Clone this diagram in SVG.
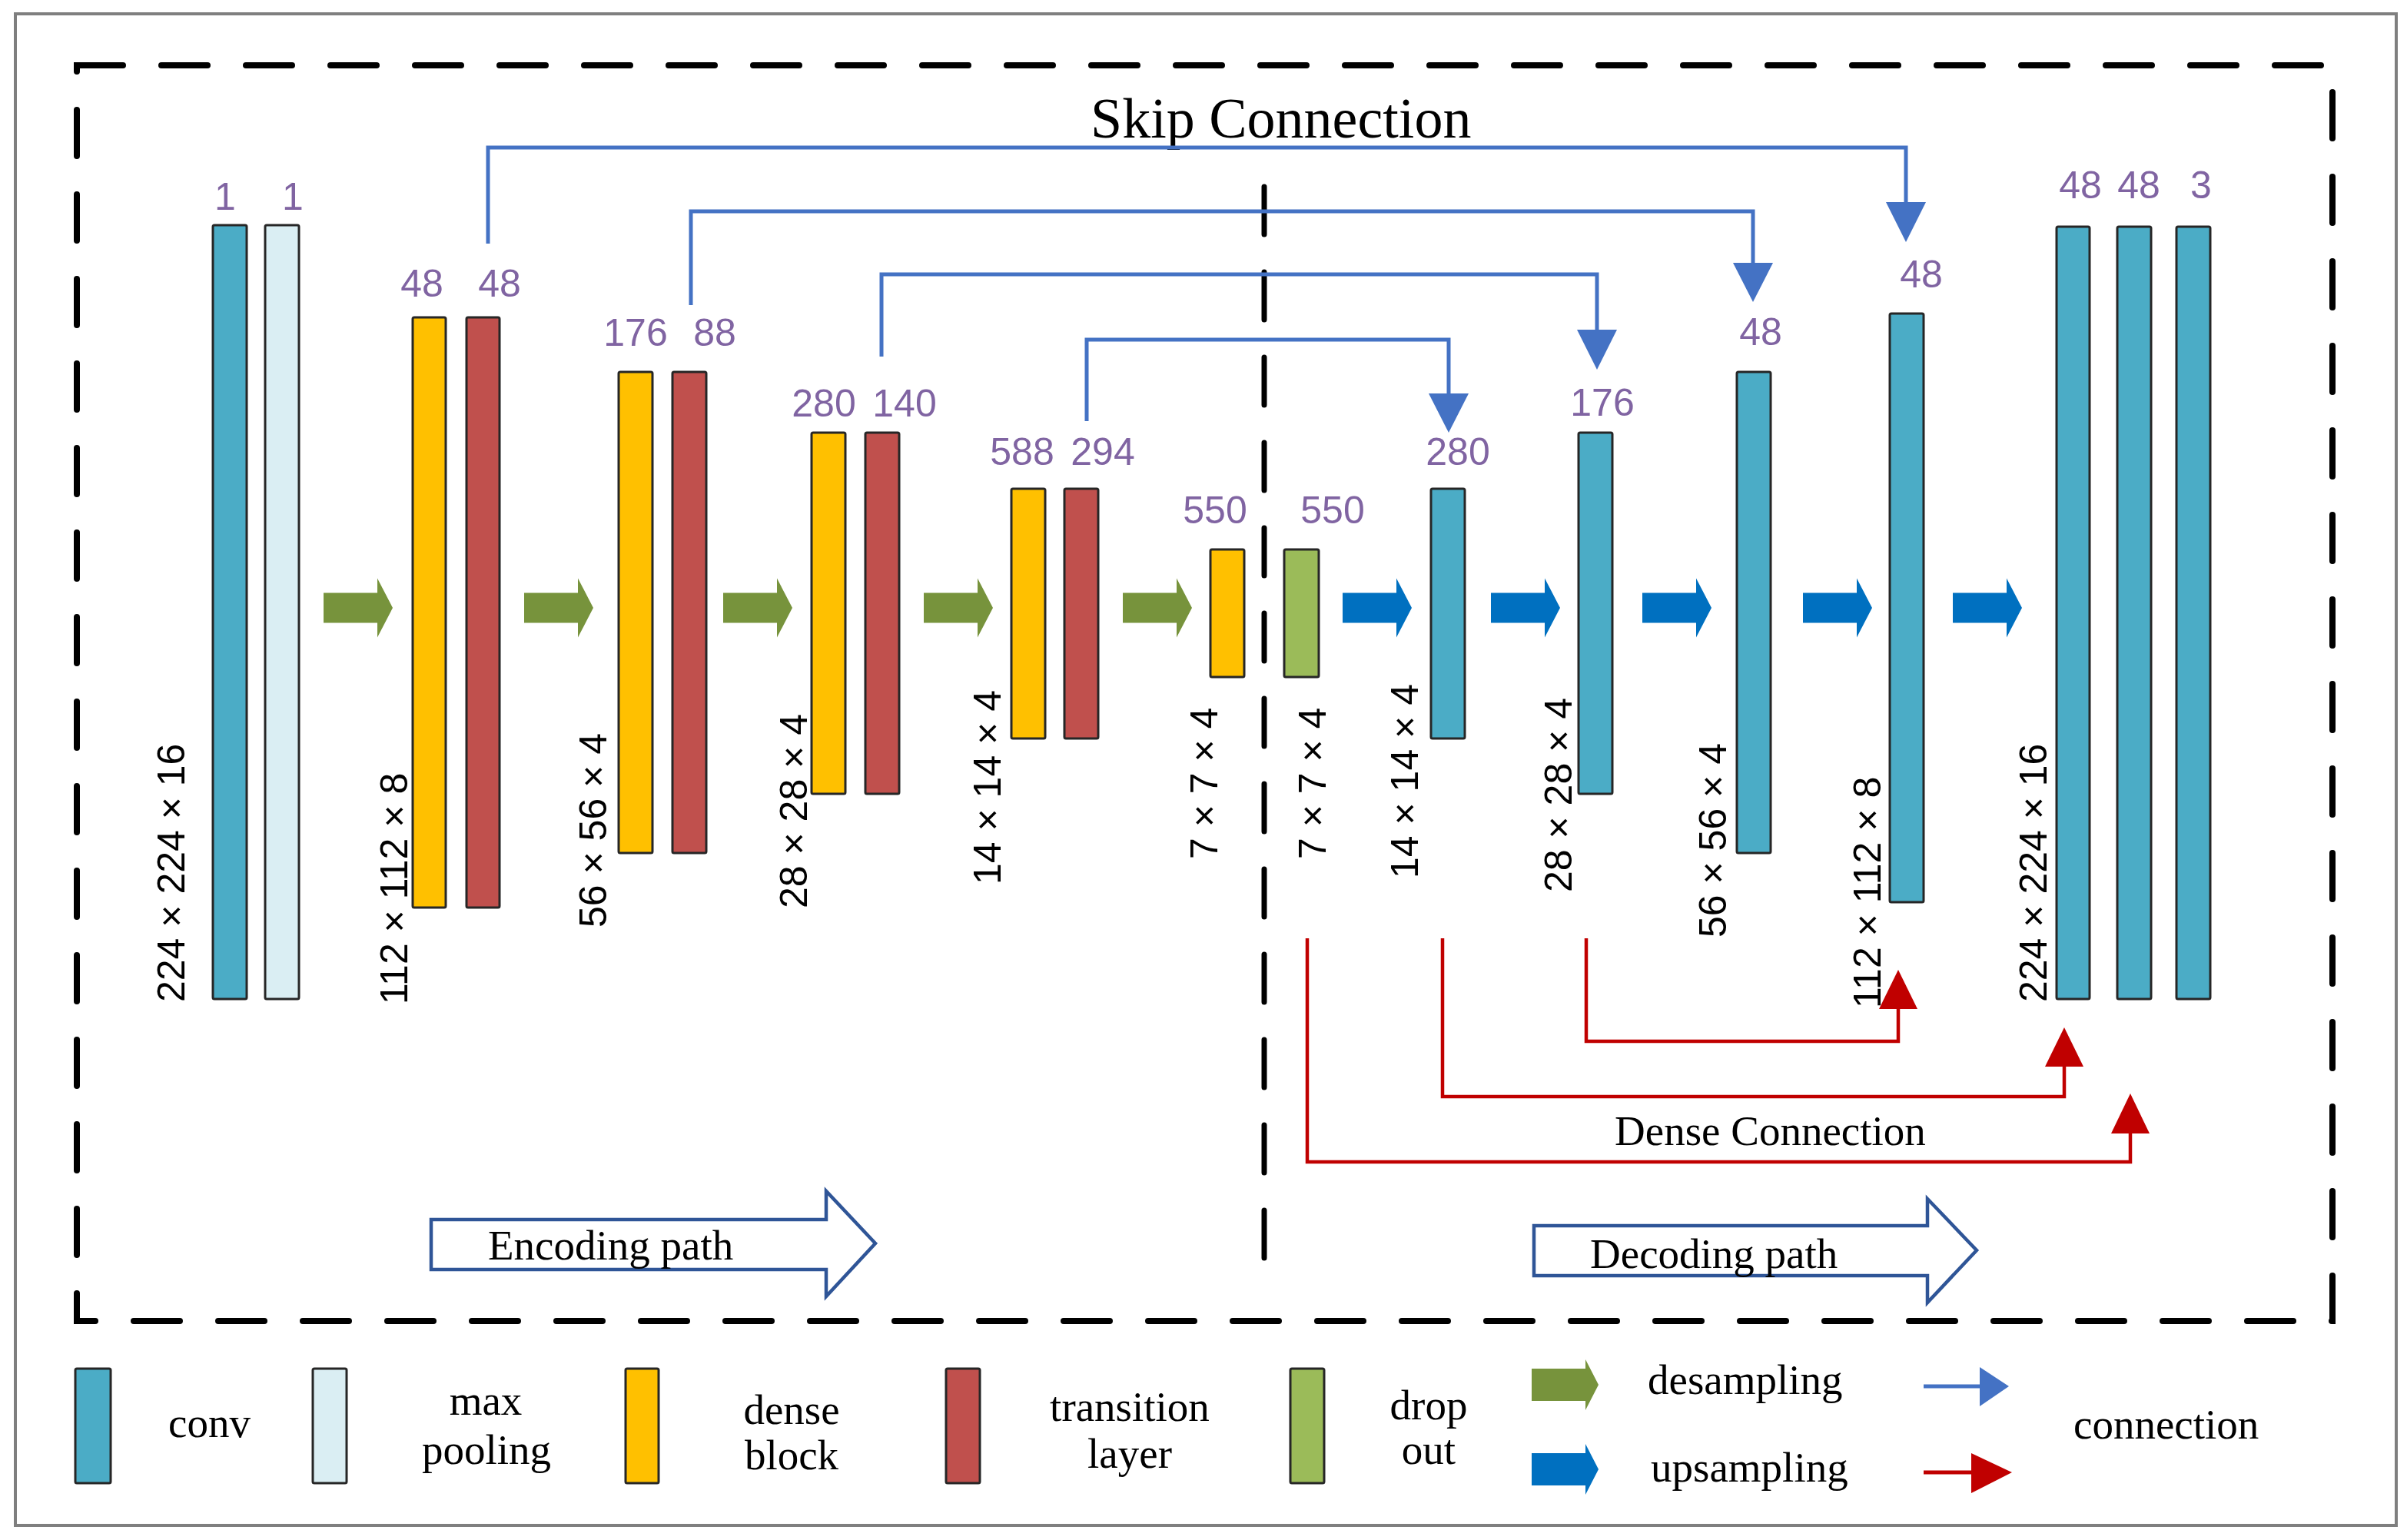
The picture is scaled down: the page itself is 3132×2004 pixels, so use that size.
<svg xmlns="http://www.w3.org/2000/svg" width="3132" height="2004" viewBox="0 0 3132 2004">
<style>
.bar{stroke:#262626;stroke-width:3}
.conv{fill:#4BACC6}
.pool{fill:#DAEEF3}
.dense{fill:#FFC000}
.trans{fill:#C0504D}
.drop{fill:#9BBB59}
.num{font-family:"Liberation Sans",Arial,sans-serif;font-size:50px;fill:#8064A2;text-anchor:middle}
.dim{font-family:"Liberation Sans",Arial,sans-serif;font-size:50px;fill:#000}
.serif{font-family:"Liberation Serif","Times New Roman",serif;fill:#000}
.lg{font-size:55px}
.mid{text-anchor:middle}
.skip{fill:none;stroke:#4472C4;stroke-width:5}
.skiphead{fill:#4472C4}
.dc{fill:none;stroke:#C00000;stroke-width:4.5}
.dchead{fill:#C00000}
.down{fill:#77933C}
.up{fill:#0070C0}
.pathar{fill:#fff;stroke:#2F5597;stroke-width:4.5}
.frame{fill:none;stroke:#7F7F7F;stroke-width:4}
.dash{fill:none;stroke:#000;stroke-width:8;stroke-dasharray:60 50;stroke-linecap:round}
.vdash{fill:none;stroke:#000;stroke-width:7;stroke-dasharray:62 49;stroke-linecap:round}
</style>
<defs>
<path id="blk" d="M0,-19.5 H70 V-38.5 L90,0 L70,38.5 V19.5 H0 Z"/>
<path id="blkL" d="M0,-21 H70 V-33 L87,0 L70,33 V21 H0 Z"/>
</defs>
<rect width="3132" height="2004" fill="#fff"/>
<rect class="frame" x="20" y="18" width="3098" height="1967"/>
<rect class="dash" x="100" y="85" width="2935" height="1634"/>
<line class="vdash" x1="1645" y1="243" x2="1645" y2="1640"/>

<text class="serif" x="1419" y="179" font-size="74">Skip Connection</text>

<!-- encoder -->
<g id="enc-conv"><rect class="bar conv" x="277" y="293" width="44" height="1007" rx="2"/><text class="num" x="293" y="273">1</text></g>
<g id="enc-pool"><rect class="bar pool" x="345" y="293" width="44" height="1007" rx="2"/><text class="num" x="381" y="273">1</text></g>
<g id="enc-dense1"><rect class="bar dense" x="537" y="413" width="43" height="768" rx="2"/><text class="num" x="549" y="386">48</text></g>
<g id="enc-trans1"><rect class="bar trans" x="607" y="413" width="43" height="768" rx="2"/><text class="num" x="650" y="386">48</text></g>
<g id="enc-dense2"><rect class="bar dense" x="805" y="484" width="44" height="626" rx="2"/><text class="num" x="827" y="450">176</text></g>
<g id="enc-trans2"><rect class="bar trans" x="875" y="484" width="44" height="626" rx="2"/><text class="num" x="930" y="450">88</text></g>
<g id="enc-dense3"><rect class="bar dense" x="1056" y="563" width="44" height="470" rx="2"/><text class="num" x="1072" y="542">280</text></g>
<g id="enc-trans3"><rect class="bar trans" x="1126" y="563" width="44" height="470" rx="2"/><text class="num" x="1177" y="542">140</text></g>
<g id="enc-dense4"><rect class="bar dense" x="1316" y="636" width="44" height="325" rx="2"/><text class="num" x="1330" y="605">588</text></g>
<g id="enc-trans4"><rect class="bar trans" x="1385" y="636" width="44" height="325" rx="2"/><text class="num" x="1435" y="605">294</text></g>
<g id="enc-dense5"><rect class="bar dense" x="1575" y="715" width="44" height="166" rx="2"/><text class="num" x="1581" y="681">550</text></g>
<g id="dropout"><rect class="bar drop" x="1671" y="715" width="45" height="166" rx="2"/><text class="num" x="1734" y="681">550</text></g>

<!-- decoder -->
<g id="dec-conv1"><rect class="bar conv" x="1862" y="636" width="44" height="325" rx="2"/><text class="num" x="1897" y="605">280</text></g>
<g id="dec-conv2"><rect class="bar conv" x="2054" y="563" width="44" height="470" rx="2"/><text class="num" x="2085" y="541">176</text></g>
<g id="dec-conv3"><rect class="bar conv" x="2260" y="484" width="44" height="626" rx="2"/><text class="num" x="2291" y="449">48</text></g>
<g id="dec-conv4"><rect class="bar conv" x="2459" y="408" width="44" height="766" rx="2"/><text class="num" x="2500" y="374">48</text></g>
<g id="out-conv1"><rect class="bar conv" x="2676" y="295" width="43" height="1005" rx="2"/><text class="num" x="2707" y="258">48</text></g>
<g id="out-conv2"><rect class="bar conv" x="2755" y="295" width="44" height="1005" rx="2"/><text class="num" x="2783" y="258">48</text></g>
<g id="out-conv3"><rect class="bar conv" x="2832" y="295" width="44" height="1005" rx="2"/><text class="num" x="2864" y="258">3</text></g>

<!-- dimension labels -->
<g id="dims">
<text class="dim" transform="translate(240,1304) rotate(-90)">224 × 224 × 16</text>
<text class="dim" transform="translate(530,1307) rotate(-90)">112 × 112 × 8</text>
<text class="dim" transform="translate(789,1207) rotate(-90)">56 × 56 × 4</text>
<text class="dim" transform="translate(1050,1182) rotate(-90)">28 × 28 × 4</text>
<text class="dim" transform="translate(1302,1151) rotate(-90)">14 × 14 × 4</text>
<text class="dim" transform="translate(1584,1118) rotate(-90)">7 × 7 × 4</text>
<text class="dim" transform="translate(1725,1118) rotate(-90)">7 × 7 × 4</text>
<text class="dim" transform="translate(1845,1143) rotate(-90)">14 × 14 × 4</text>
<text class="dim" transform="translate(2045,1161) rotate(-90)">28 × 28 × 4</text>
<text class="dim" transform="translate(2246,1220) rotate(-90)">56 × 56 × 4</text>
<text class="dim" transform="translate(2447,1312) rotate(-90)">112 × 112 × 8</text>
<text class="dim" transform="translate(2663,1304) rotate(-90)">224 × 224 × 16</text>
</g>

<!-- connectors -->
<g id="connectors">
<use href="#blk" x="421" y="791" class="down"/>
<use href="#blk" x="682" y="791" class="down"/>
<use href="#blk" x="941" y="791" class="down"/>
<use href="#blk" x="1202" y="791" class="down"/>
<use href="#blk" x="1461" y="791" class="down"/>
<use href="#blk" x="1747" y="791" class="up"/>
<use href="#blk" x="1940" y="791" class="up"/>
<use href="#blk" x="2137" y="791" class="up"/>
<use href="#blk" x="2346" y="791" class="up"/>
<use href="#blk" x="2541" y="791" class="up"/>

<polyline class="skip" points="635,317 635,192 2480,192 2480,265"/>
<polygon class="skiphead" points="2454,263 2506,263 2480,315"/>
<polyline class="skip" points="899,397 899,275 2281,275 2281,344"/>
<polygon class="skiphead" points="2255,342 2307,342 2281,393"/>
<polyline class="skip" points="1147,464 1147,357 2078,357 2078,431"/>
<polygon class="skiphead" points="2052,429 2104,429 2078,481"/>
<polyline class="skip" points="1414,548 1414,442 1885,442 1885,514"/>
<polygon class="skiphead" points="1859,512 1911,512 1885,563"/>

<polyline class="dc" points="2064,1221 2064,1355 2470,1355 2470,1311"/>
<polygon class="dchead" points="2445,1313 2495,1313 2470,1262"/>
<polyline class="dc" points="1877,1221 1877,1427 2686,1427 2686,1386"/>
<polygon class="dchead" points="2661,1388 2711,1388 2686,1337"/>
<polyline class="dc" points="1701,1221 1701,1512 2772,1512 2772,1473"/>
<polygon class="dchead" points="2747,1475 2797,1475 2772,1423"/>
</g>
<text class="serif" x="2101" y="1490" font-size="55">Dense Connection</text>

<g id="encoding-path">
<polygon class="pathar" points="561,1587 1075,1587 1075,1550 1139,1618 1075,1687 1075,1652 561,1652"/>
<text class="serif" x="635" y="1639" font-size="55">Encoding path</text>
</g>
<g id="decoding-path">
<polygon class="pathar" points="1996,1595 2508,1595 2508,1560 2572,1627 2508,1695 2508,1660 1996,1660"/>
<text class="serif" x="2069" y="1650" font-size="55">Decoding path</text>
</g>

<!-- legend -->
<g id="legend">
<rect class="bar conv" x="98" y="1781" width="46" height="149" rx="2"/>
<text class="serif lg" x="219" y="1870">conv</text>
<rect class="bar pool" x="407" y="1781" width="44" height="149" rx="2"/>
<text class="serif lg mid" x="632" y="1841">max</text>
<text class="serif lg mid" x="633" y="1905">pooling</text>
<rect class="bar dense" x="814" y="1781" width="43" height="149" rx="2"/>
<text class="serif lg mid" x="1030" y="1853">dense</text>
<text class="serif lg mid" x="1030" y="1912">block</text>
<rect class="bar trans" x="1231" y="1781" width="44" height="149" rx="2"/>
<text class="serif lg mid" x="1470" y="1849">transition</text>
<text class="serif lg mid" x="1470" y="1910">layer</text>
<rect class="bar drop" x="1679" y="1781" width="44" height="149" rx="2"/>
<text class="serif lg mid" x="1859" y="1847">drop</text>
<text class="serif lg mid" x="1859" y="1905">out</text>
<use href="#blkL" x="1993" y="1802" class="down"/>
<use href="#blkL" x="1993" y="1912" class="up"/>
<text class="serif lg" x="2144" y="1814">desampling</text>
<text class="serif lg" x="2148" y="1928">upsampling</text>
<line x1="2503" y1="1804" x2="2580" y2="1804" stroke="#4472C4" stroke-width="5"/>
<polygon class="skiphead" points="2576,1779 2614,1804 2576,1830"/>
<line x1="2503" y1="1916" x2="2568" y2="1916" stroke="#C00000" stroke-width="5"/>
<polygon class="dchead" points="2565,1891 2618,1916 2565,1943"/>
<text class="serif lg" x="2698" y="1872">connection</text>
</g>
</svg>
